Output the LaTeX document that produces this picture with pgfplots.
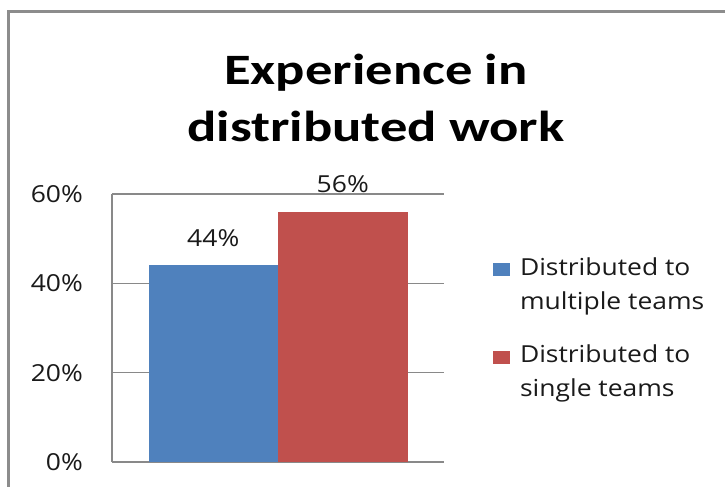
\documentclass[border=0pt]{standalone}
\usepackage{fontspec}
\setmainfont{Open Sans}[FakeStretch=1.13]
\newfontfamily\titlefont{Carlito}[FakeStretch=1.26]
\usepackage{pgfplots}
\pgfplotsset{compat=1.18}
\definecolor{xblue}{HTML}{4F81BD}
\definecolor{xred}{HTML}{C0504D}
\definecolor{xgrid}{HTML}{898989}
\definecolor{xframe}{HTML}{8C8C8C}
\definecolor{xtext}{HTML}{1A1A1A}
\begin{document}
\begin{tikzpicture}[x=1bp,y=1bp]
\useasboundingbox (0,0) rectangle (725,487);
\fill[white] (0,0) rectangle (725,487);
\draw[xframe, line width=2.5bp] (8.3,-5) -- (8.3,475.5) -- (730,475.5);
\node[font=\titlefont\bfseries\fontsize{43.5}{58}\selectfont, align=center, inner sep=0pt] at (376,389) {Experience in\\distributed work};
\begin{axis}[
  at={(112bp,25bp)}, anchor=south west,
  width=332bp, height=268bp, scale only axis,
  ybar=0pt, bar width=129.5bp,
  xmin=-1, xmax=1, ymin=0, ymax=60,
  xtick=\empty, ytick={0,20,40,60},
  yticklabel={\pgfmathprintnumber{\tick}\%},
  /pgf/number format/assume math mode=true,
  major tick length=0pt,
  axis x line*=bottom, axis y line*=left,
  axis line style={draw=xgrid, line width=1.2bp, -},
  ymajorgrids, major grid style={draw=xgrid, line width=1.2bp},
  ticklabel style={font=\fontsize{23.5}{28}\selectfont, text=xtext},
  yticklabel style={anchor=east, inner sep=0pt, xshift=-29bp},
  nodes near coords={\pgfmathprintnumber{\pgfplotspointmeta}\%},
  nodes near coords style={font=\fontsize{23.5}{28}\selectfont, text=xtext, anchor=south, inner sep=0pt, yshift=19bp},
  legend style={at={(rel axis cs:1.147,0.77)}, anchor=north west, draw=none, fill=none,
    font=\fontsize{23.5}{34}\selectfont, text=xtext, row sep=30bp, inner sep=0pt,
    cells={anchor=west, align=left}},
  legend image code/.code={\fill[#1, draw=none] (0bp,8bp) rectangle (17bp,21bp); \path (25bp,8bp);},
]
\addplot[fill=xblue, draw=none] coordinates {(0,44)};
\addlegendentry{Distributed to\\multiple teams}
\addplot[fill=xred, draw=none] coordinates {(0,56)};
\addlegendentry{Distributed to\\single teams}
\end{axis}
\end{tikzpicture}
\end{document}
